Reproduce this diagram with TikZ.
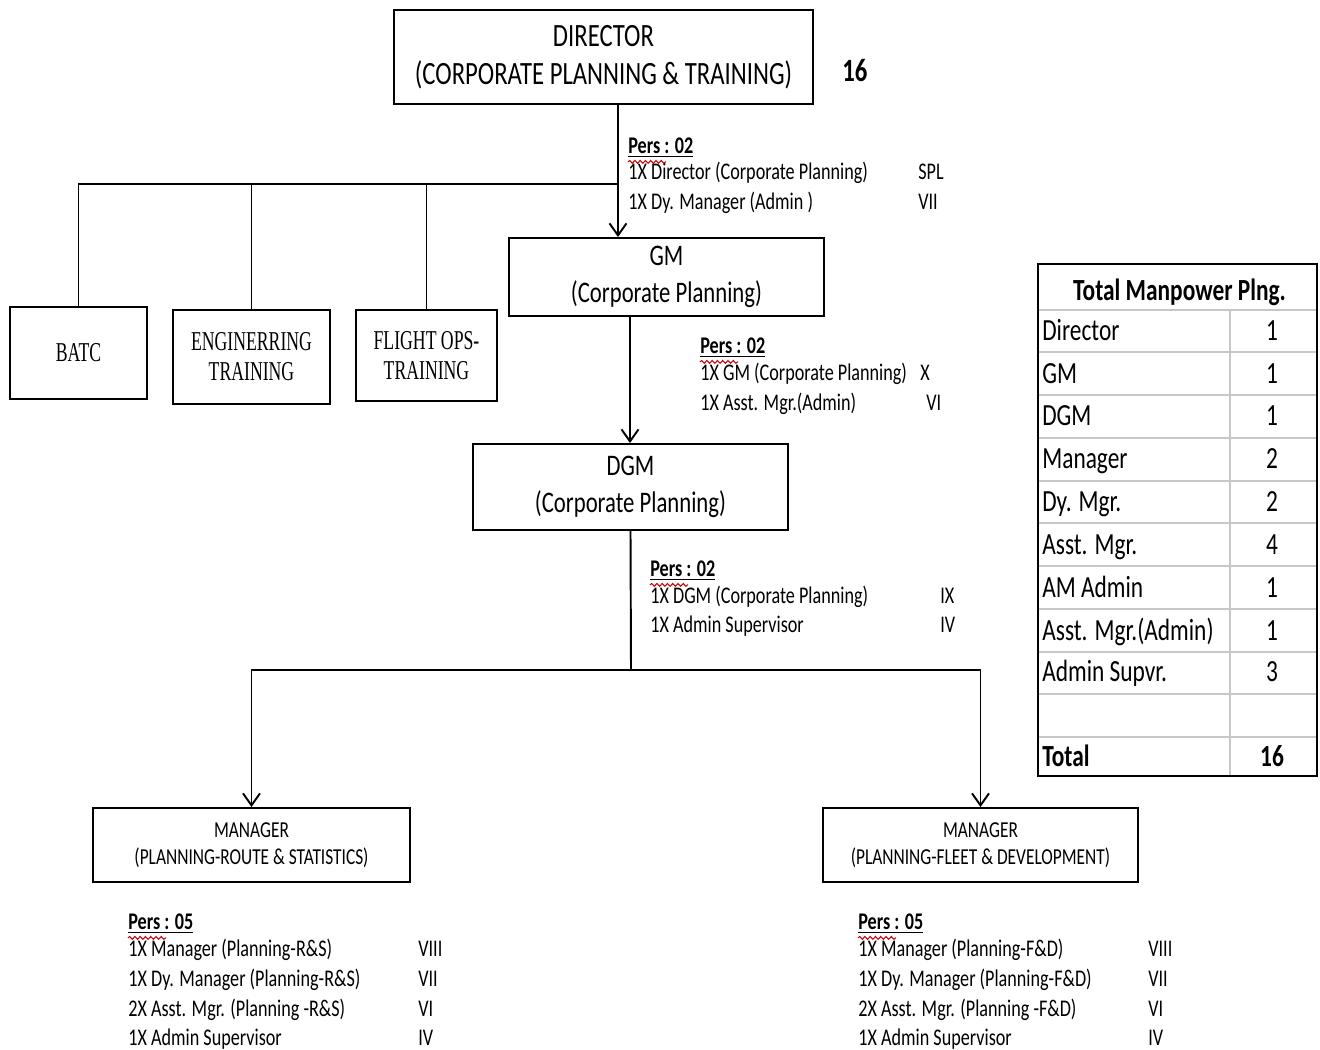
\documentclass[tikz,border=0pt]{standalone}
\usepackage{fontspec}
\setmainfont{Carlito}[FakeStretch=0.76]
\newfontfamily\timesnarrow{Liberation Serif}[FakeStretch=0.65]
\usetikzlibrary{positioning,arrows.meta,decorations.pathmorphing}

\begin{document}
\begin{tikzpicture}[
        x=0.02cm, y=-0.02cm,
        >={Straight Barb[length=2.4mm,width=3.4mm]},
        link/.style={line width=1.1pt, draw=black},
        flow/.style={->, line width=1.1pt, draw=black},
        post/.style={
            rectangle,
            draw=black,
            line width=1.1pt,
            align=center,
            inner sep=2pt
        },
        head/.style={post, font=\fontsize{18.5}{21.5}\selectfont},
        unit/.style={post, font=\fontsize{17}{21}\selectfont},
        mgr/.style={post, font=\fontsize{13}{15.3}\selectfont},
        school/.style={post, font=\timesnarrow\fontsize{15.5}{17}\selectfont},
        pers/.style={anchor=base west, inner sep=0pt, font=\fontsize{13.6}{15}\selectfont},
        cell/.style={anchor=base west, inner sep=0pt, font=\fontsize{17.5}{20}\selectfont},
        num/.style={anchor=base, inner sep=0pt, font=\fontsize{17.5}{20}\selectfont},
        grid/.style={draw=black!22, line width=0.8pt},
        squiggle/.style={draw=red!80!black, line width=0.6pt, decorate,
            decoration={snake, amplitude=0.8pt, segment length=3pt}}
    ]

    \useasboundingbox (0,0) rectangle (1320,1050);

    % top of the chart
    \node[head, minimum width=8.38cm, minimum height=1.88cm] (director) at (603.5,57)
        {DIRECTOR\\(CORPORATE PLANNING \& TRAINING)};
    \node[anchor=base west, inner sep=0pt, font=\bfseries\fontsize{18.5}{20}\selectfont] (strength) at (842,82) {16};

    \node[unit, minimum width=6.3cm, minimum height=1.56cm] (gm) at (666.5,277) {GM\\(Corporate Planning)};
    \node[unit, minimum width=6.3cm, minimum height=1.72cm] (dgm) at (630.5,487) {DGM\\(Corporate Planning)};

    \node[school, minimum width=2.74cm, minimum height=1.84cm] (batc) at (78.5,353) {BATC};
    \node[school, minimum width=3.14cm, minimum height=1.88cm] (eng) at (251.5,357) {ENGINERRING\\TRAINING};
    \node[school, minimum width=2.82cm, minimum height=1.82cm] (flight) at (426.5,355.5) {FLIGHT OPS-\\TRAINING};

    \node[mgr, minimum width=6.34cm, minimum height=1.48cm] (mrs) at (251.5,845)
        {MANAGER\\(PLANNING-ROUTE \& STATISTICS)};
    \node[mgr, minimum width=6.3cm, minimum height=1.48cm] (mfd) at (980.5,845)
        {MANAGER\\(PLANNING-FLEET \& DEVELOPMENT)};

    % personnel under director
    \node[pers] (p1) at (628,154) {\textbf{\underline{Pers : 02}}};
    \node[pers] (p1a) at (628,180) {1X Director (Corporate Planning)};
    \node[pers] (p1b) at (628,210) {1X Dy. Manager (Admin )};
    \node[pers] (g1a) at (918,180) {SPL};
    \node[pers] (g1b) at (918,210) {VII};

    % personnel under gm
    \node[pers] (p2) at (700,354) {\textbf{\underline{Pers : 02}}};
    \node[pers] (p2a) at (700,381) {1X GM (Corporate Planning)};
    \node[pers] (p2b) at (700,411) {1X Asst. Mgr.(Admin)};
    \node[pers] (g2a) at (920,381) {X};
    \node[pers] (g2b) at (926,411) {VI};

    % personnel under dgm
    \node[pers] (p3) at (650,577) {\textbf{\underline{Pers : 02}}};
    \node[pers] (p3a) at (650,604) {1X DGM (Corporate Planning)};
    \node[pers] (p3b) at (650,633) {1X Admin Supervisor};
    \node[pers] (g3a) at (940,604) {IX};
    \node[pers] (g3b) at (940,633) {IV};

    % personnel under managers
    \node[pers] (p4) at (128,930) {\textbf{\underline{Pers : 05}}};
    \node[pers] (p4a) at (128,957) {1X Manager (Planning-R\&S)};
    \node[pers] (p4b) at (128,987) {1X Dy. Manager (Planning-R\&S)};
    \node[pers] (p4c) at (128,1017) {2X Asst. Mgr. (Planning -R\&S)};
    \node[pers] (p4d) at (128,1046) {1X Admin Supervisor};
    \node[pers] (g4a) at (418,957) {VIII};
    \node[pers] (g4b) at (418,987) {VII};
    \node[pers] (g4c) at (418,1017) {VI};
    \node[pers] (g4d) at (418,1046) {IV};

    \node[pers] (p5) at (858,930) {\textbf{\underline{Pers : 05}}};
    \node[pers] (p5a) at (858,957) {1X Manager (Planning-F\&D)};
    \node[pers] (p5b) at (858,987) {1X Dy. Manager (Planning-F\&D)};
    \node[pers] (p5c) at (858,1017) {2X Asst. Mgr. (Planning -F\&D)};
    \node[pers] (p5d) at (858,1046) {1X Admin Supervisor};
    \node[pers] (g5a) at (1148,957) {VIII};
    \node[pers] (g5b) at (1148,987) {VII};
    \node[pers] (g5c) at (1148,1017) {VI};
    \node[pers] (g5d) at (1148,1046) {IV};

    \draw[squiggle] ([yshift=-4.5pt]p1.base west) -- ++(38,0);
    \draw[squiggle] ([yshift=-4.5pt]p2.base west) -- ++(38,0);
    \draw[squiggle] ([yshift=-4.5pt]p3.base west) -- ++(38,0);
    \draw[squiggle] ([yshift=-4.5pt]p4.base west) -- ++(38,0);
    \draw[squiggle] ([yshift=-4.5pt]p5.base west) -- ++(38,0);

    % connectors
    \coordinate (drop) at (618,104);
    \coordinate (bus) at (618,184);
    \coordinate (gmfoot) at (630,316);
    \coordinate (split) at (631,670);

    \draw[flow] (drop) -- (drop |- gm.north);
    \draw[link] (bus) -- (bus -| batc.north) -- (batc.north);
    \draw[link] (bus -| eng.north) -- (eng.north);
    \draw[link] (bus -| flight.north) -- (flight.north);
    \draw[flow] (gmfoot) -- (gmfoot |- dgm.north);
    \draw[link] (dgm.south) -- (split);
    \draw[flow] (split) -| (mrs.north);
    \draw[flow] (split) -| (mfd.north);

    % manpower table
    \foreach \row in {310,352,395,438,481,523,566,609,652,694,737}
        \draw[grid] (1039,\row) -- (1316,\row);
    \draw[grid] (1230,310) -- (1230,775);
    \draw[line width=1.1pt] (1038,264) rectangle (1317,776);

    \node[anchor=base, inner sep=0pt, font=\bfseries\fontsize{17.5}{20}\selectfont] (thead) at (1179.5,301) {Total Manpower Plng.};
    \node[cell] (tdir) at (1042,341) {Director};
    \node[cell] (tgm) at (1042,384) {GM};
    \node[cell] (tdgm) at (1042,426) {DGM};
    \node[cell] (tmgr) at (1042,469) {Manager};
    \node[cell] (tdy) at (1042,512) {Dy. Mgr.};
    \node[cell] (tasst) at (1042,555) {Asst. Mgr.};
    \node[cell] (tam) at (1042,598) {AM Admin};
    \node[cell] (tasad) at (1042,641) {Asst. Mgr.(Admin)};
    \node[cell] (tsup) at (1042,682) {Admin Supvr.};
    \node[cell, font=\bfseries\fontsize{17.5}{20}\selectfont] (ttot) at (1042,767) {Total};

    \node[num] (ndir) at (1272,341) {1};
    \node[num] (ngm) at (1272,384) {1};
    \node[num] (ndgm) at (1272,426) {1};
    \node[num] (nmgr) at (1272,469) {2};
    \node[num] (ndy) at (1272,512) {2};
    \node[num] (nasst) at (1272,555) {4};
    \node[num] (nam) at (1272,598) {1};
    \node[num] (nasad) at (1272,641) {1};
    \node[num] (nsup) at (1272,682) {3};
    \node[num, font=\bfseries\fontsize{17.5}{20}\selectfont] (ntot) at (1272,767) {16};

\end{tikzpicture}
\end{document}
